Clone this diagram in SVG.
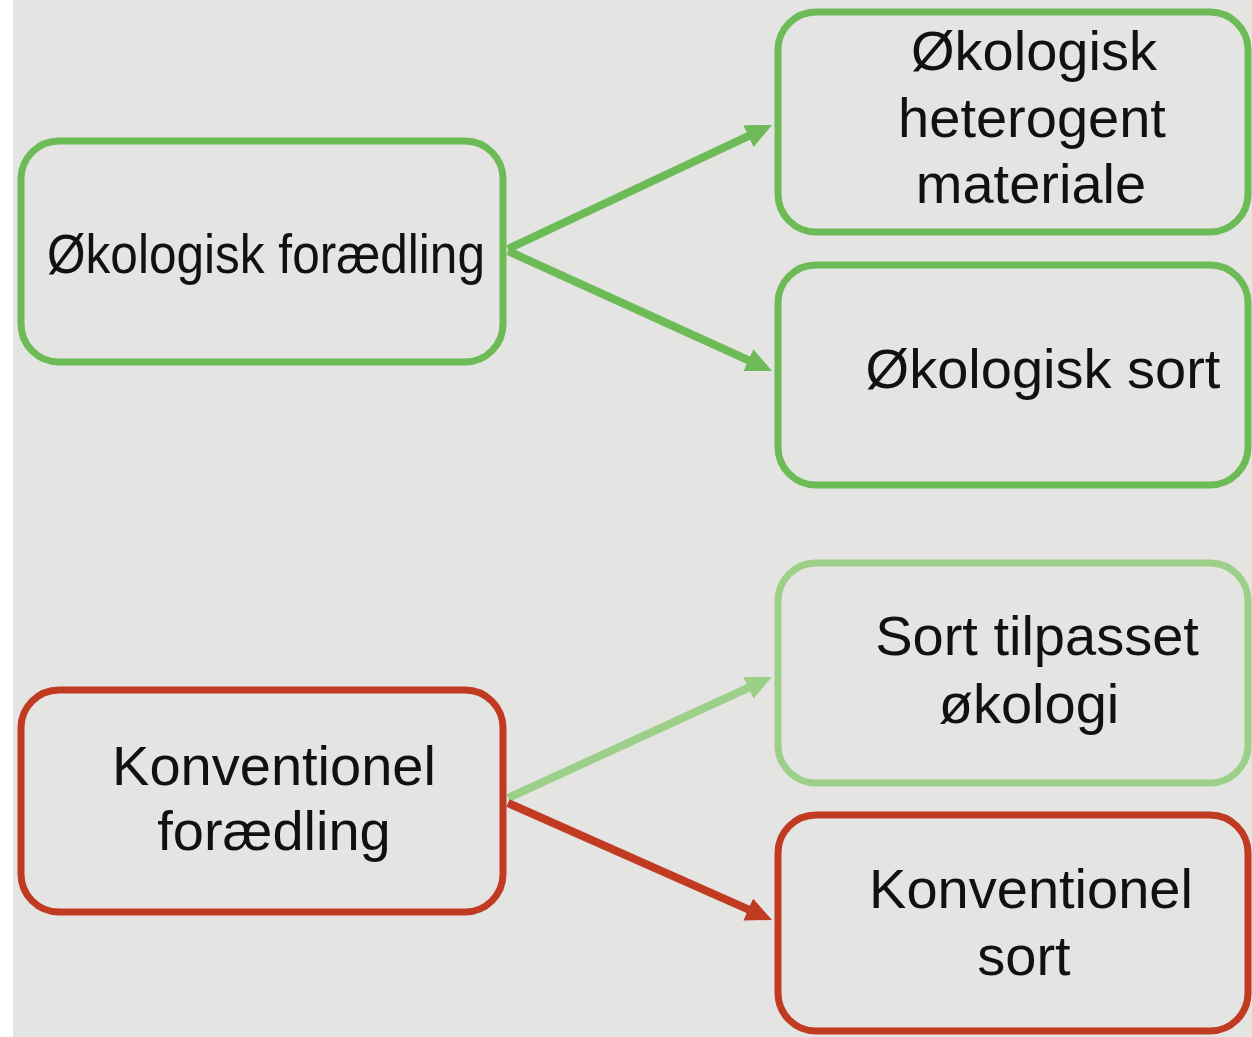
<svg xmlns="http://www.w3.org/2000/svg" width="1252" height="1037" viewBox="0 0 1252 1037">
<style>
.box{fill:none;stroke-width:7}
.g{stroke:#6cbb56}
.lg{stroke:#9ccf88}
.r{stroke:#c13a22}
text{font-family:"Liberation Sans",Arial,sans-serif;font-size:56px;fill:#111;text-anchor:middle}
.conn line{stroke-width:8;fill:none}
</style>
<defs>
<marker id="ag" viewBox="0 0 26 24" refX="8" refY="12" markerWidth="26" markerHeight="24" markerUnits="userSpaceOnUse" orient="auto"><path d="M0,0 L26,12 L0,24 z" fill="#6cbb56"/></marker>
<marker id="alg" viewBox="0 0 26 24" refX="8" refY="12" markerWidth="26" markerHeight="24" markerUnits="userSpaceOnUse" orient="auto"><path d="M0,0 L26,12 L0,24 z" fill="#9ccf88"/></marker>
<marker id="ar" viewBox="0 0 26 24" refX="8" refY="12" markerWidth="26" markerHeight="24" markerUnits="userSpaceOnUse" orient="auto"><path d="M0,0 L26,12 L0,24 z" fill="#c13a22"/></marker>
</defs>
<rect x="0" y="0" width="1252" height="1037" fill="#ffffff"/>
<rect x="13" y="0" width="1239" height="1037" fill="#e4e4e2"/>
<g class="conn">
<line class="g" x1="508" y1="249" x2="755.7" y2="132.7" marker-end="url(#ag)"/>
<line class="g" x1="508" y1="251" x2="755.6" y2="363.5" marker-end="url(#ag)"/>
<line class="lg" x1="508" y1="798" x2="755.6" y2="684.5" marker-end="url(#alg)"/>
<line class="r" x1="508" y1="803" x2="755.5" y2="912.7" marker-end="url(#ar)"/>
</g>
<g id="oko-foraedling">
<rect class="box g" x="21" y="141" width="482" height="221" rx="38"/>
<text x="47" y="273" style="text-anchor:start" textLength="438" lengthAdjust="spacingAndGlyphs">Økologisk forædling</text>
</g>
<g id="oko-heterogent">
<rect class="box g" x="778" y="12" width="470" height="220" rx="38"/>
<text x="1034" y="70">Økologisk</text>
<text x="1032" y="137">heterogent</text>
<text x="1031" y="203">materiale</text>
</g>
<g id="oko-sort">
<rect class="box g" x="778" y="265" width="470" height="220" rx="38"/>
<text x="1043" y="388">Økologisk sort</text>
</g>
<g id="sort-tilpasset">
<rect class="box lg" x="778" y="563" width="470" height="220" rx="38"/>
<text x="1037" y="655">Sort tilpasset</text>
<text x="1029" y="723">økologi</text>
</g>
<g id="konv-sort">
<rect class="box r" x="778" y="815" width="470" height="216" rx="38"/>
<text x="1031" y="908">Konventionel</text>
<text x="1024" y="975">sort</text>
</g>
<g id="konv-foraedling">
<rect class="box r" x="21" y="690" width="482" height="222" rx="38"/>
<text x="274" y="785">Konventionel</text>
<text x="274" y="850">forædling</text>
</g>
</svg>
